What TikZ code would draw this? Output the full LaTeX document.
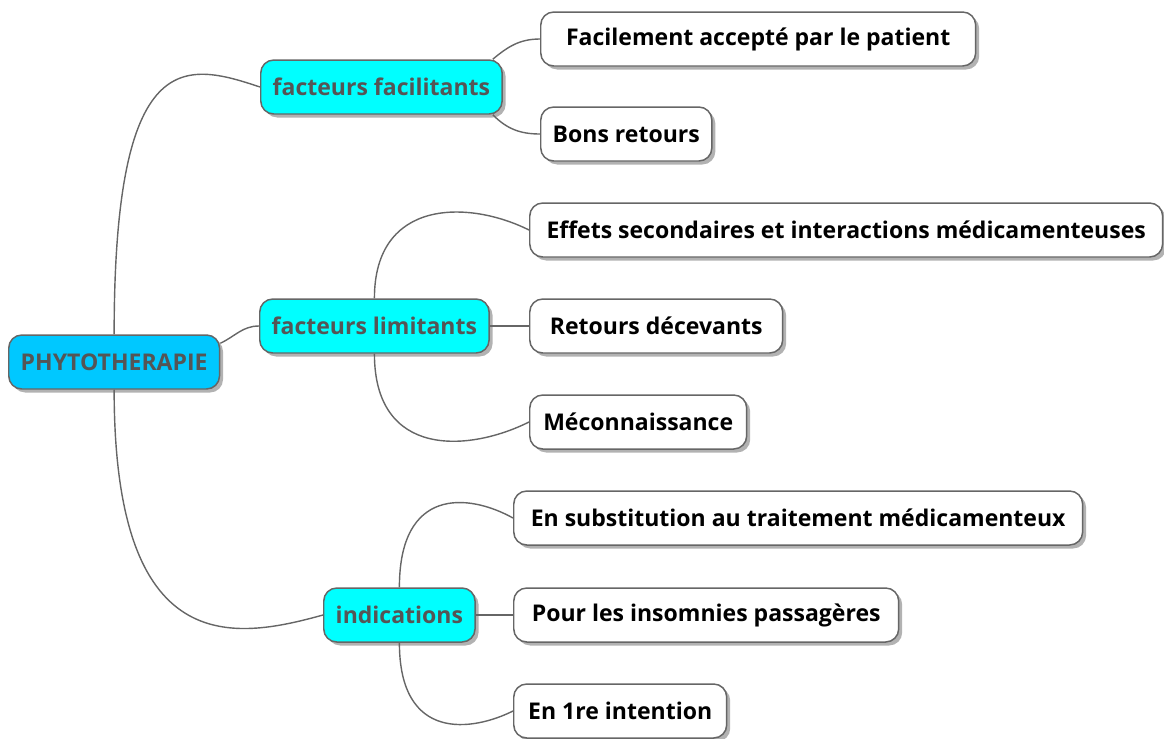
\documentclass[tikz,border=0pt]{standalone}
\usepackage{fontspec}
\setmainfont{Open Sans}
\usetikzlibrary{shadows,graphs}
\definecolor{rootblue}{HTML}{00C8FF}
\definecolor{branchcyan}{HTML}{00FFFF}
\definecolor{boxline}{HTML}{666666}
\definecolor{boxink}{HTML}{555555}

\begin{document}
\begin{tikzpicture}[x=0.02cm,y=-0.02cm,
    box/.style={draw=boxline, line width=0.85pt, rounded corners=0.26cm,
      minimum height=1.08cm, inner xsep=0.24cm, anchor=west,
      font=\fontsize{13.1}{15}\selectfont\bfseries,
      drop shadow={shadow xshift=0.07cm, shadow yshift=-0.07cm,
        fill=black, opacity=0.3}},
    root/.style={box, fill=rootblue, text=boxink},
    branch/.style={box, fill=branchcyan, text=boxink},
    leaf/.style={box, fill=white, text=black},
    link/.style={draw=boxline, line width=0.8pt}]
      \useasboundingbox (0,0) rectangle (1164,738);

      \node[root] (phyto) at (8,362) {PHYTOTHERAPIE};

      \node[branch] (fac) at (260,87) {facteurs facilitants};
      \node[branch] (lim) at (259,326) {facteurs limitants};
      \node[branch] (ind) at (323,615) {indications};

      \node[leaf, minimum width=8.7cm] (acc) at (540,39) {Facilement accepté par le patient};
      \node[leaf] (bons) at (540,134) {Bons retours};

      \node[leaf, minimum width=12.66cm] (eff) at (529,230) {Effets secondaires et interactions médicamenteuses};
      \node[leaf, minimum width=5.06cm] (dec) at (529,326) {Retours décevants};
      \node[leaf, minimum width=4.34cm] (mec) at (529,422) {Méconnaissance};

      \node[leaf, minimum width=11.38cm] (sub) at (513,518) {En substitution au traitement médicamenteux};
      \node[leaf, minimum width=7.7cm] (ins) at (513,615) {Pour les insomnies passagères};
      \node[leaf, minimum width=4.26cm] (inten) at (513,711) {En 1re intention};

      % root to branches
      \draw[link] (phyto.north) .. controls +(0,-290) and +(-75,-25) .. (fac.west);
      \draw[link] (phyto.10) to[out=25,in=180] (lim.west);
      \draw[link] (phyto.south) .. controls +(0,270) and +(-90,25) .. (ind.west);

      % branches to leaves
      \draw[link] (fac.14) to[out=40,in=180] (acc.west);
      \draw[link] (fac.-14) to[out=-45,in=180] (bons.west);

      \draw[link] (lim.north) .. controls +(0,-100) and +(-60,-30) .. (eff.west);
      \draw[link] (lim.south) .. controls +(0,105) and +(-60,30) .. (mec.west);

      \draw[link] (ind.north) .. controls +(0,-100) and +(-45,-25) .. (sub.west);
      \draw[link] (ind.south) .. controls +(0,100) and +(-40,20) .. (inten.west);

      \graph[use existing nodes, edges={link}] {
        lim -- dec;
        ind -- ins;
      };
  \end{tikzpicture}
\end{document}
